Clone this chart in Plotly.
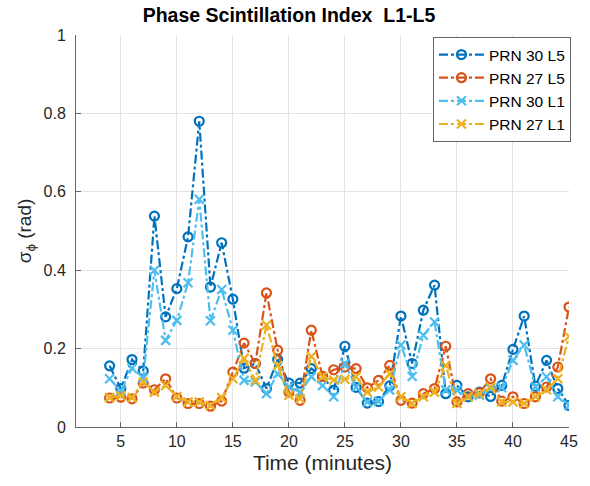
import plotly.graph_objects as go

minutes = list(range(4, 46))

prn30_l5 = [0.156, 0.098, 0.172, 0.143, 0.538, 0.281, 0.353, 0.485, 0.780, 0.357,
            0.470, 0.326, 0.150, 0.162, 0.098, 0.172, 0.112, 0.112, 0.149, 0.129,
            0.094, 0.206, 0.101, 0.061, 0.065, 0.105, 0.283, 0.162, 0.298, 0.362,
            0.085, 0.106, 0.077, 0.089, 0.078, 0.106, 0.198, 0.283, 0.104, 0.170,
            0.098, 0.055]
prn27_l5 = [0.074, 0.076, 0.072, 0.112, 0.095, 0.123, 0.074, 0.060, 0.060, 0.053,
            0.066, 0.140, 0.214, 0.162, 0.342, 0.196, 0.089, 0.068, 0.247, 0.129,
            0.146, 0.153, 0.149, 0.100, 0.119, 0.157, 0.068, 0.061, 0.085, 0.098,
            0.206, 0.064, 0.085, 0.087, 0.123, 0.066, 0.077, 0.060, 0.077, 0.102,
            0.153, 0.306]
prn30_l1 = [0.123, 0.092, 0.150, 0.125, 0.400, 0.221, 0.272, 0.368, 0.581, 0.271,
            0.351, 0.247, 0.119, 0.115, 0.085, 0.136, 0.102, 0.089, 0.128, 0.106,
            0.077, 0.162, 0.102, 0.064, 0.066, 0.094, 0.209, 0.129, 0.234, 0.268,
            0.094, 0.094, 0.077, 0.081, 0.098, 0.100, 0.170, 0.209, 0.102, 0.128,
            0.077, 0.055]
prn27_l1 = [0.075, 0.080, 0.075, 0.115, 0.089, 0.106, 0.078, 0.064, 0.064, 0.055,
            0.075, 0.123, 0.175, 0.119, 0.260, 0.157, 0.081, 0.072, 0.180, 0.128,
            0.120, 0.122, 0.128, 0.089, 0.102, 0.136, 0.077, 0.060, 0.077, 0.089,
            0.157, 0.060, 0.077, 0.085, 0.102, 0.064, 0.064, 0.060, 0.077, 0.095,
            0.123, 0.231]

series = [
    ("PRN 30 L5", prn30_l5, "#0072BD", "circle-open"),
    ("PRN 27 L5", prn27_l5, "#D95319", "circle-open"),
    ("PRN 30 L1", prn30_l1, "#4DBEEE", "x-thin-open"),
    ("PRN 27 L1", prn27_l1, "#EDB120", "x-thin-open"),
]

fig = go.Figure()
for name, vals, col, sym in series:
    fig.add_trace(go.Scatter(
        x=minutes, y=vals, name=name, mode="lines+markers",
        line=dict(color=col, width=2.2, dash="dashdot"),
        marker=dict(symbol=sym, size=9, color=col, line=dict(color=col, width=2.2)),
    ))

axis_common = dict(
    showgrid=True, gridcolor="#e3e3e3", gridwidth=1,
    showline=True, linecolor="#666666", linewidth=1,
    ticks="inside", ticklen=5, tickcolor="#666666",
    tickfont=dict(size=16, color="#262626"),
    zeroline=False, mirror=False,
)

W, H = 590, 486
L, R, T, B = 76, 12, 35, 59
fig.update_layout(
    width=W, height=H,
    margin=dict(l=L, r=R, t=T, b=B),
    paper_bgcolor="white", plot_bgcolor="white",
    font=dict(family="Liberation Sans, Arial, sans-serif", color="#262626"),
    title=dict(text="<b>Phase Scintillation Index  L1-L5</b>",
               x=289 / W, xanchor="center",
               y=1 - 15 / H, yanchor="middle", font=dict(size=19.5, color="#000000")),
    xaxis=dict(range=[1, 45], tickvals=[5, 10, 15, 20, 25, 30, 35, 40, 45],
               title=dict(text="Time (minutes)", font=dict(size=21, color="#262626"), standoff=6),
               **axis_common),
    yaxis=dict(range=[0, 1], tickvals=[0, 0.2, 0.4, 0.6, 0.8, 1],
               ticktext=["0", "0.2", "0.4", "0.6", "0.8", "1"],
               ticklabelstandoff=6,
               title=dict(text="σ<sub>ϕ</sub> (rad)", font=dict(size=19, color="#262626"), standoff=6),
               **axis_common),
    legend=dict(x=1.004, y=0.995, xanchor="right", yanchor="top",
                bgcolor="white", bordercolor="#666666", borderwidth=1,
                font=dict(size=15.5, color="#000000"), tracegroupgap=0,
                itemwidth=45),
    showlegend=True,
)

fig.write_html("out.html", config={"displayModeBar": False},
               post_script="document.body.style.margin='0';")
